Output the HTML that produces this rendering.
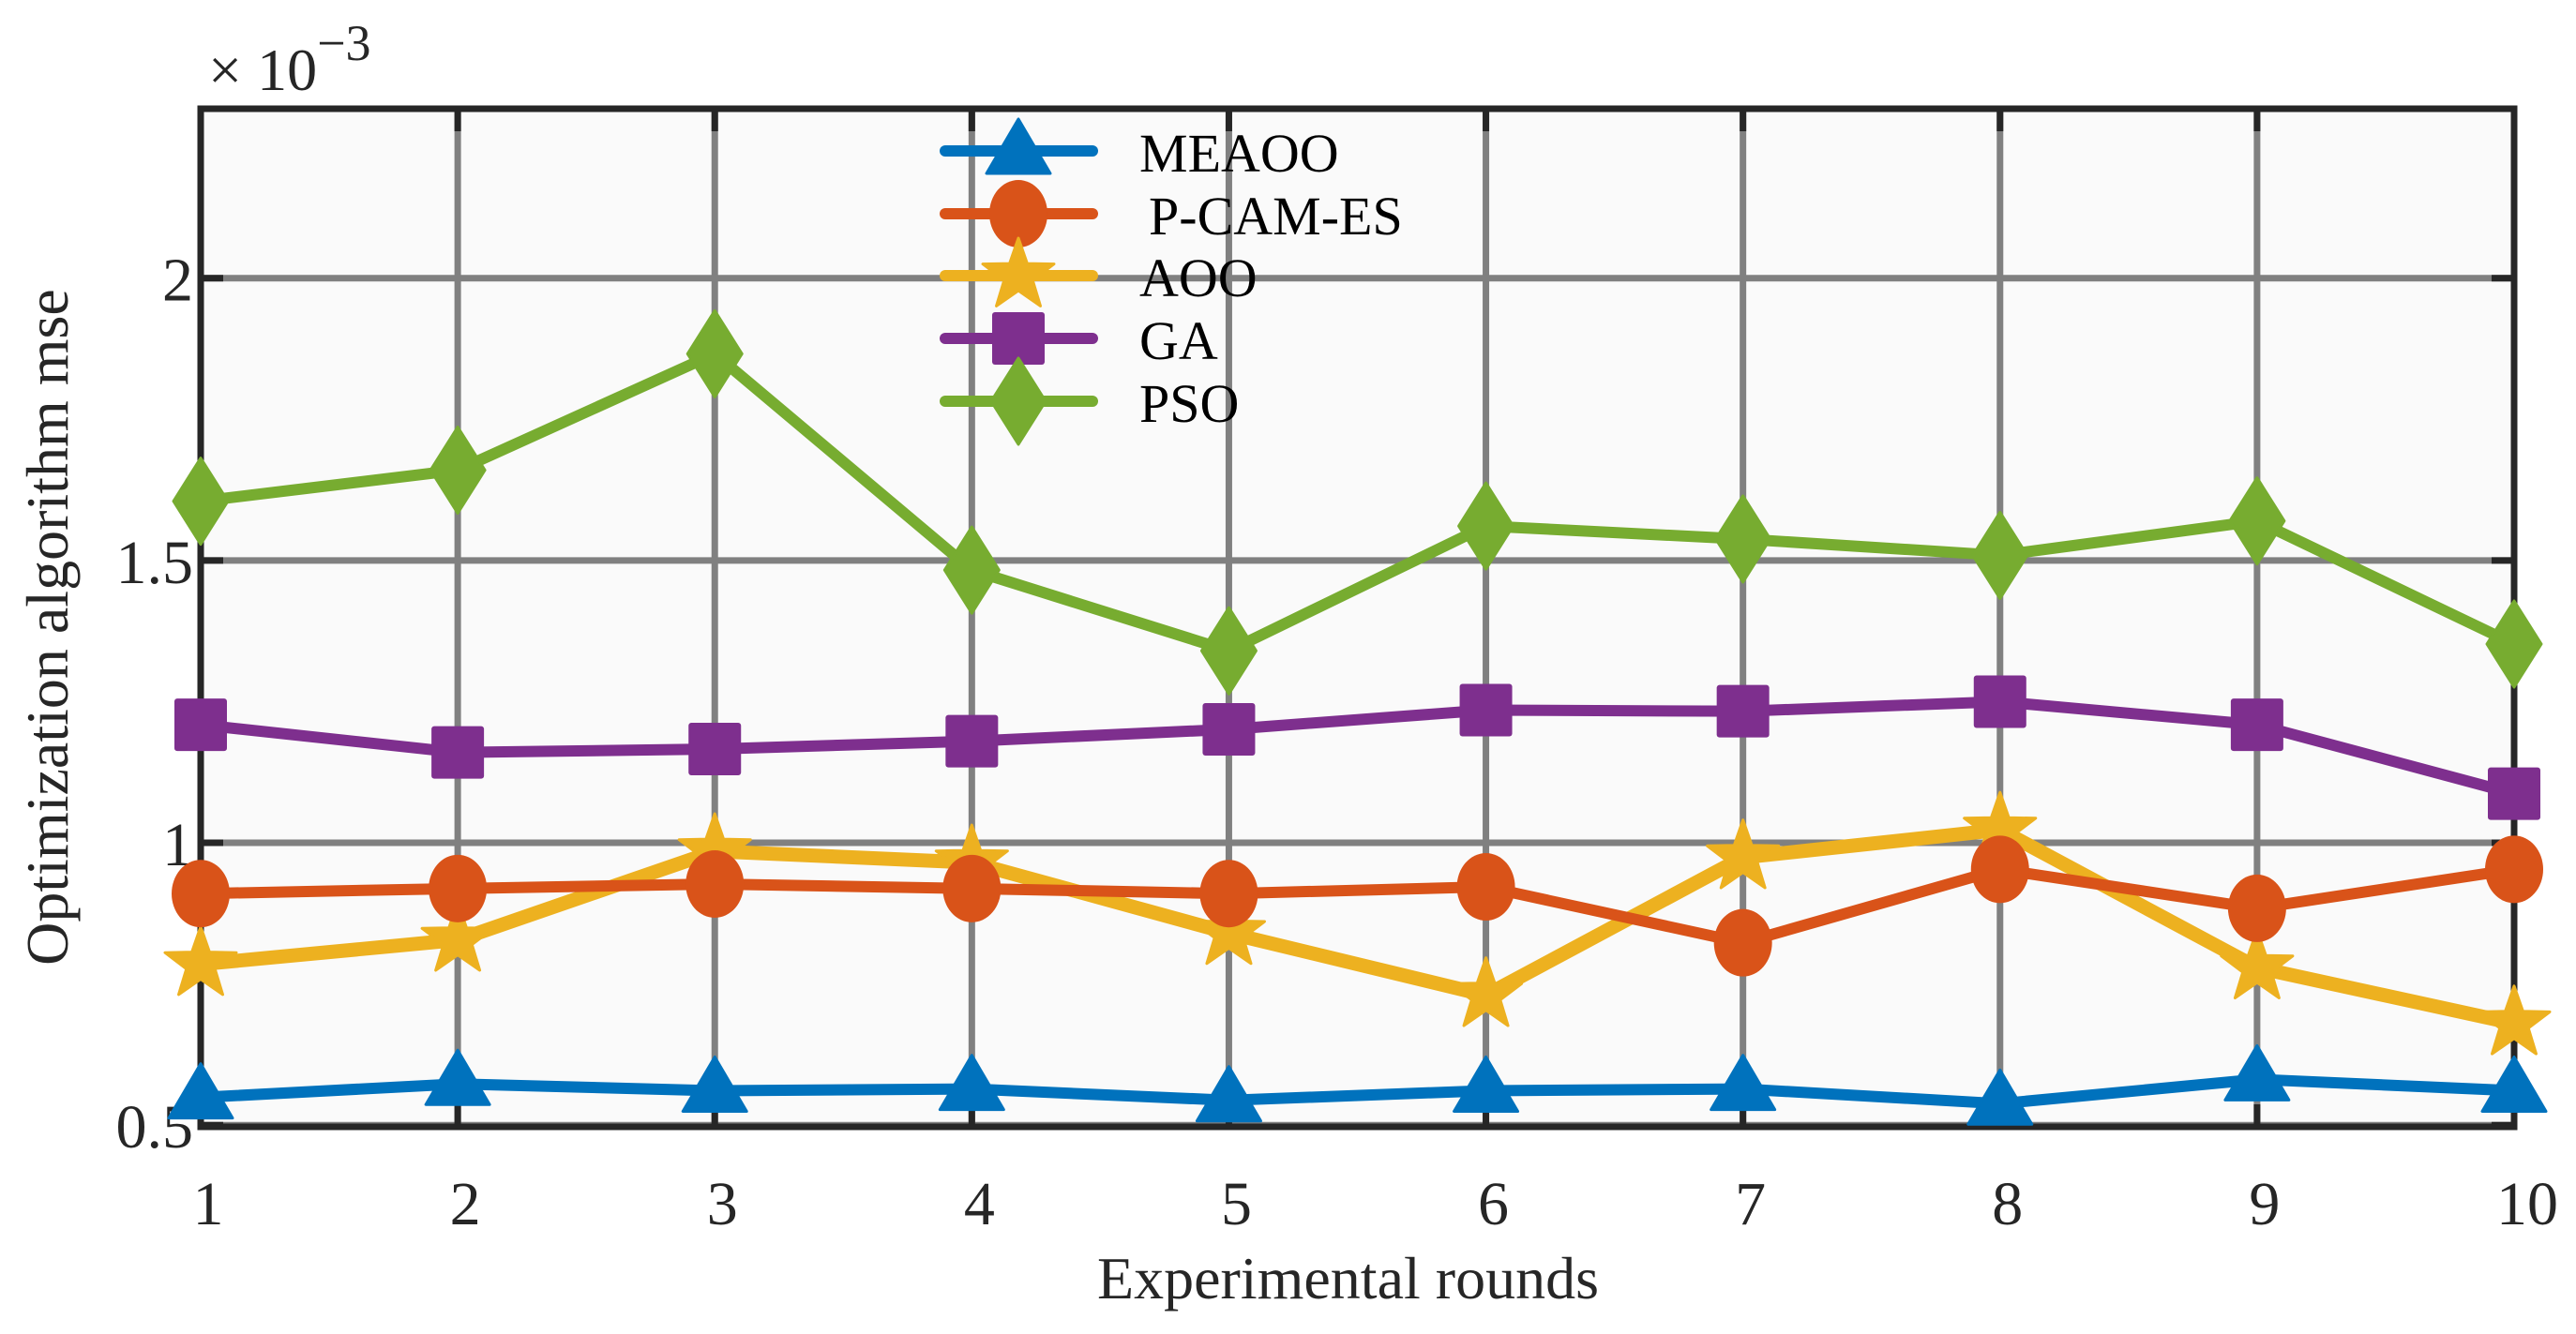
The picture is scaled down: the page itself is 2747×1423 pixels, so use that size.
<!DOCTYPE html>
<html><head><meta charset="utf-8">
<style>
html,body{margin:0;padding:0;background:#fff;}
svg{display:block;font-family:"Liberation Serif",serif;}
</style></head>
<body>
<svg id="chart" width="2747" height="1423" viewBox="0 0 2747 1423" xmlns="http://www.w3.org/2000/svg"></svg>
<script>
const categories=[1,2,3,4,5,6,7,8,9,10];
const yTicks=[0.5,1,1.5,2];
const yTickLabels=["0.5","1","1.5","2"];
const seriesNames=["MEAOO","P-CAM-ES","AOO","GA","PSO"];
const meaoo=[0.549,0.573,0.561,0.564,0.544,0.561,0.564,0.538,0.581,0.561];
const pcames=[0.910,0.919,0.927,0.919,0.910,0.922,0.823,0.953,0.884,0.953];
const aoo=[0.785,0.828,0.985,0.965,0.840,0.730,0.974,1.023,0.779,0.680];
const ga=[1.209,1.160,1.166,1.180,1.201,1.235,1.233,1.250,1.209,1.087];
const pso=[1.605,1.660,1.866,1.483,1.340,1.561,1.538,1.509,1.570,1.352];

const svg=document.getElementById('chart');
const NS="http://www.w3.org/2000/svg";
const L=214,R=2681,T=116,B=1202;
const xMin=1,xMax=10,yMin=0.497,yMax=2.30;
function xs(v){return L+(v-xMin)/(xMax-xMin)*(R-L);}
function ys(v){return B-(v-yMin)/(yMax-yMin)*(B-T);}
function mk(tag,attrs,parent){const e=document.createElementNS(NS,tag);for(const k in attrs)e.setAttribute(k,attrs[k]);(parent||svg).appendChild(e);return e;}

const bg=mk('rect',{x:L,y:T,width:R-L,height:B-T,fill:'#fafafa'});



const grid=mk('g',{stroke:'#808080','stroke-width':7});


categories.forEach(c=>{mk('line',{x1:xs(c),x2:xs(c),y1:T,y2:B},grid);});
yTicks.forEach(t=>{mk('line',{x1:L,x2:R,y1:ys(t),y2:ys(t)},grid);});

const ax=mk('g',{stroke:'#262626','stroke-width':7,fill:'none'});


mk('rect',{x:L,y:T,width:R-L,height:B-T},ax);
categories.forEach(c=>{
  mk('line',{x1:xs(c),x2:xs(c),y1:B,y2:B-24},ax);
  mk('line',{x1:xs(c),x2:xs(c),y1:T,y2:T+24},ax);
});
yTicks.forEach(t=>{
  mk('line',{x1:L,x2:L+24,y1:ys(t),y2:ys(t)},ax);
  mk('line',{x1:R,x2:R-24,y1:ys(t),y2:ys(t)},ax);
});

categories.forEach(c=>{
  const t=mk('text',{x:xs(c)+(c===10?14:8),y:1306,'text-anchor':'middle','font-size':66,fill:'#262626'});
  t.textContent=String(c);
  
  
});
yTicks.forEach((v,i)=>{
  const t=mk('text',{x:L-8,y:ys(v)+24,'text-anchor':'end','font-size':66,fill:'#262626'});
  t.textContent=yTickLabels[i];
  
  
});
const ex=mk('text',{x:222,y:96,'font-size':64,fill:'#262626'});
ex.innerHTML='× 10<tspan dy="-32" font-size="54">−3</tspan>';



const xt=mk('text',{x:(L+R)/2-10,y:1385,'text-anchor':'middle','font-size':64,fill:'#262626'});
xt.textContent='Experimental rounds';


const yt=mk('text',{x:0,y:0,'text-anchor':'middle','font-size':64,fill:'#262626',transform:'translate(72,'+((T+B)/2+10)+') rotate(-90)'});
yt.textContent='Optimization algorithm mse';



const colors=['#0072BD','#D95319','#EDB120','#7E2F8E','#77AC30'];
const shapes=['tri','circ','star','sq','dia'];
function marker(g,type,x,y,c){
  if(type==='tri'){mk('polygon',{points:`${x},${y-36} ${x-34},${y+22} ${x+34},${y+22}`,fill:c,stroke:c,'stroke-width':3,'stroke-linejoin':'round'},g);}
  else if(type==='circ'){mk('ellipse',{cx:x,cy:y,rx:31,ry:36,fill:c},g);}
  else if(type==='star'){let p=[];for(let i=0;i<10;i++){const r=i%2?16:40;const a=-Math.PI/2+i*Math.PI/5;p.push((x+r*Math.cos(a)).toFixed(1)+','+(y+r*Math.sin(a)).toFixed(1));}
    mk('polygon',{points:p.join(' '),fill:c,stroke:c,'stroke-width':3,'stroke-linejoin':'round'},g);}
  else if(type==='sq'){mk('rect',{x:x-28,y:y-28,width:56,height:56,rx:3,fill:c},g);}
  else {mk('polygon',{points:`${x},${y-46} ${x+29},${y} ${x},${y+46} ${x-29},${y}`,fill:c,stroke:c,'stroke-width':3,'stroke-linejoin':'round'},g);}
}
const allSeries=[meaoo,pcames,aoo,ga,pso];
for(let s=allSeries.length-1;s>=0;s--){
  const vals=allSeries[s];
  const g=mk('g',{});
  
  
  const pts=vals.map((v,i)=>xs(categories[i])+','+ys(v)).join(' ');
  mk('polyline',{points:pts,fill:'none',stroke:colors[s],'stroke-width':s===2?15:12,'stroke-linejoin':'round'},g);
  vals.forEach((v,i)=>marker(g,shapes[s],xs(categories[i]),ys(v),colors[s]));
}

const leg=mk('g',{});


const legY=[161,228,294,361,428];
seriesNames.forEach((n,i)=>{
  const e=mk('g',{},leg);
  
  
  mk('line',{x1:1008,x2:1165,y1:legY[i],y2:legY[i],stroke:colors[i],'stroke-width':12,'stroke-linecap':'round'},e);
  marker(e,shapes[i],1086,legY[i]+(i===0?2:0),colors[i]);
  const t=mk('text',{x:i===1?1225:1215,y:legY[i]+22,'font-size':58,fill:'#000'},e);
  t.textContent=n;
});
</script>
</body></html>
